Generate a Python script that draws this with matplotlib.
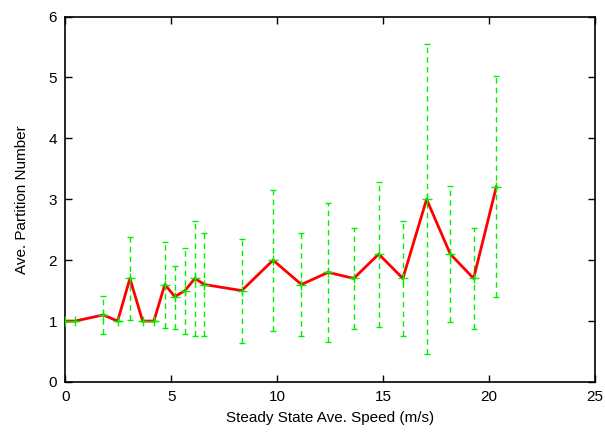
import numpy as np
import matplotlib
matplotlib.use("Agg")
import matplotlib.pyplot as plt

plt.rcParams['font.family'] = ['Liberation Sans', 'DejaVu Sans']

# speed (m/s) vs average partition number, with min/max range
speed = [0, 0.46, 1.79, 2.47, 3.05, 3.65, 4.18, 4.70, 5.17, 5.65, 6.12, 6.56,
         8.33, 9.81, 11.15, 12.41, 13.62, 14.80, 15.94, 17.06, 18.18, 19.28, 20.35]
partition = [1.0, 1.0, 1.1, 1.0, 1.7, 1.0, 1.0, 1.6, 1.4, 1.5, 1.7, 1.6,
             1.5, 2.0, 1.6, 1.8, 1.7, 2.1, 1.7, 3.0, 2.1, 1.7, 3.2]
low = [1.0, 1.0, 0.78, 1.0, 1.02, 1.0, 1.0, 0.89, 0.87, 0.78, 0.75, 0.75,
       0.64, 0.84, 0.76, 0.65, 0.87, 0.90, 0.75, 0.46, 0.99, 0.87, 1.39]
high = [1.0, 1.0, 1.41, 1.0, 2.38, 1.0, 1.0, 2.29, 1.91, 2.20, 2.65, 2.44,
        2.35, 3.16, 2.45, 2.94, 2.52, 3.29, 2.65, 5.55, 3.21, 2.53, 5.02]

arrX = np.array(speed)
arrY = np.array(partition)
yerr = [arrY - np.array(low), np.array(high) - arrY]

green = '#00f000'

fig = plt.figure(figsize=(6.05, 4.36), dpi=100)
ax = fig.add_axes([0.108, 0.124, 0.875, 0.838])

eb = ax.errorbar(arrX, arrY, yerr=yerr, fmt='none', ecolor=green, elinewidth=1,
                 capsize=2.5, capthick=1, zorder=2)
eb[2][0].set_linestyle((0, (4, 3)))
ax.plot(arrX, arrY, '-', color='#ff0000', lw=2, zorder=3)   # mean line
ax.plot(arrX, arrY, '+', color=green, ms=7, mew=1, zorder=4)  # data points

ax.set_xlim(0, 25)
ax.set_ylim(0, 6)
ax.set_xticks([0, 5, 10, 15, 20, 25])
ax.set_yticks([0, 1, 2, 3, 4, 5, 6])
ax.tick_params(direction='in', top=True, right=True, length=5, width=1,
               labelsize=11, pad=6)
for s in ax.spines.values():
    s.set_linewidth(1.2)

ax.set_xlabel('Steady State Ave. Speed (m/s)', fontsize=11, labelpad=5)
ax.set_ylabel('Ave. Partition Number', fontsize=11, labelpad=14)

fig.savefig('out.png', dpi=100)
